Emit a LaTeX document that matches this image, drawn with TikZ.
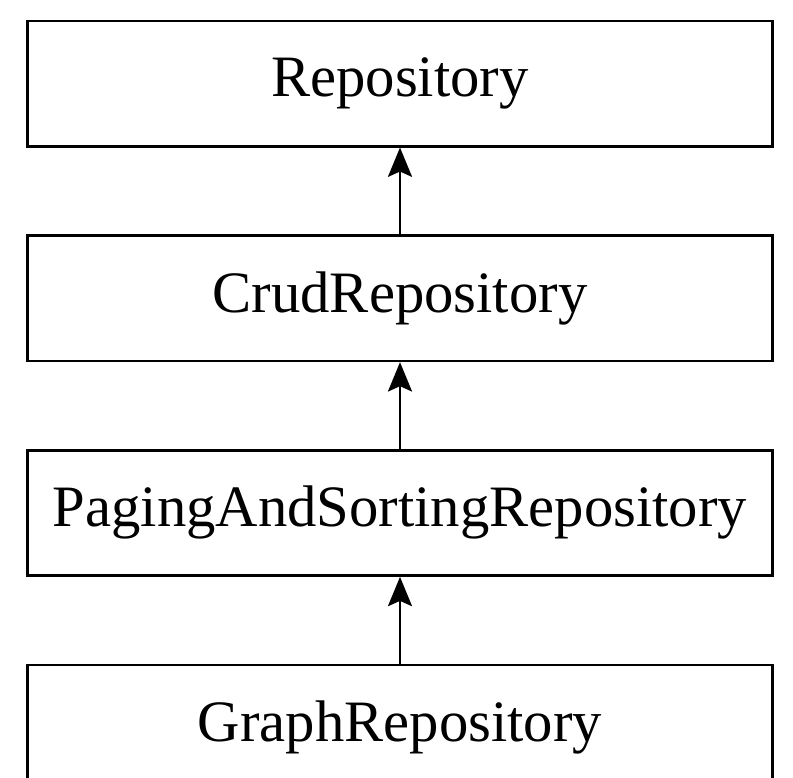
\documentclass[tikz,border=0pt]{standalone}
\usepackage{fontspec}
\setmainfont{Liberation Serif}
\usetikzlibrary{positioning,arrows.meta}
\begin{document}
\begin{tikzpicture}[x=0.75pt,y=-0.75pt,node distance=65pt,
  repo box/.style={draw,line width=2pt,minimum width=559pt,minimum height=94pt,inner sep=0pt,font=\fontsize{44}{50}\selectfont},
  extends/.style={line width=2pt,-{Stealth[length=22pt,width=18pt,inset=4pt]}}]
\useasboundingbox (0,0) rectangle (793,778);

\node[repo box] (repo) at (400,83.5) {Repository};
\node[repo box] (crud) [below=of repo] {CrudRepository};
\node[repo box] (paging) [below=of crud] {PagingAndSortingRepository};
\node[repo box] (graph) [below=of paging] {GraphRepository};

\draw[extends] (crud) -- (repo);
\draw[extends] (paging) -- (crud);
\draw[extends] (graph) -- (paging);
\end{tikzpicture}
\end{document}
